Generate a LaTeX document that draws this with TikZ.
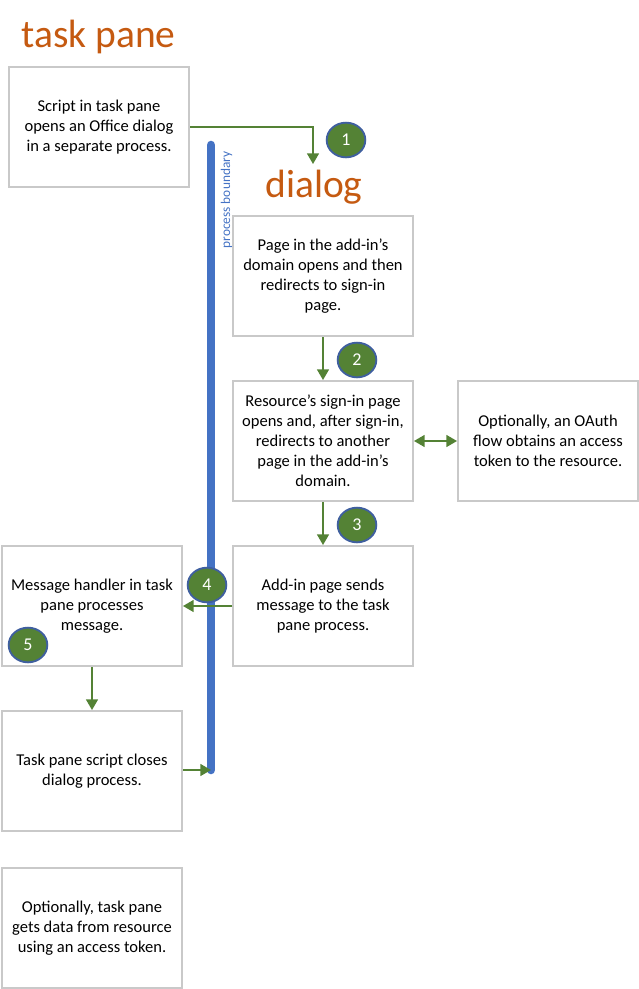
\documentclass[tikz,border=0pt]{standalone}
\usepackage{fontspec}
\setmainfont{Carlito}
\usetikzlibrary{arrows.meta,shapes.geometric,positioning}
\definecolor{boxgray}{HTML}{C9C9C9}
\definecolor{flowgreen}{HTML}{548235}
\definecolor{barblue}{HTML}{4472C4}
\definecolor{ringblue}{HTML}{3F5F9F}
\definecolor{titleorange}{HTML}{C55A11}
\tikzset{
	stepbox/.style={draw=boxgray,line width=1.5pt,fill=white,minimum width=135pt,minimum height=90pt,align=center,inner sep=0pt,font=\fontsize{12.4pt}{15pt}\selectfont},
	titletext/.style={text=titleorange,inner sep=0pt,font=\fontsize{29.6pt}{32pt}\selectfont},
	flow/.style={draw=flowgreen,line width=1.1pt,-{Triangle[length=8pt,width=9pt]}},
	numdot/.style={ellipse,draw=ringblue,line width=1.4pt,fill=flowgreen,text=white,minimum width=29pt,minimum height=26pt,inner sep=0pt,font=\fontsize{13.5pt}{15pt}\selectfont}
}
\begin{document}
\begin{tikzpicture}[x=0.75pt,y=-0.75pt,node distance=32.25pt]
	\useasboundingbox (0,0) rectangle (639,989);
	
	% process boundary
	\coordinate (bartop) at (211,145);
	\coordinate (barend) at (211,770);
	\draw[barblue,line width=6.4pt,line cap=round] (bartop) -- (barend);
	\node[rotate=90,text=barblue,inner sep=0pt,font=\fontsize{10pt}{10pt}\selectfont](boundary) at (226.5,200){process boundary};
	
	% left column
	\node[titletext](tasktitle) at (98.5,37){task pane};
	\node[stepbox](task) at (99,127){Script in task pane\\opens an Office dialog\\in a separate process.};
	\node[stepbox](handler) at (92,606){Message handler in task\\pane processes\\message.};
	\node[stepbox](closer)[below=of handler]{Task pane script closes\\dialog process.};
	\node[stepbox](fetch) at (92,928){Optionally, task pane\\gets data from resource\\using an access token.};
	
	% right column
	\node[titletext](dialog) at (314,187){dialog};
	\node[stepbox](page) at (323,276){Page in the add-in’s\\domain opens and then\\redirects to sign-in\\page.};
	\node[stepbox](signin)[below=of page]{Resource’s sign-in page\\opens and, after sign-in,\\redirects to another\\page in the add-in’s\\domain.};
	\node[stepbox](addin)[below=of signin]{Add-in page sends\\message to the task\\pane process.};
	\node[stepbox](oauth)[right=of signin]{Optionally, an OAuth\\flow obtains an access\\token to the resource.};
	
	\coordinate (dialogin) at (313,164);
	\draw[flow] (task.east) -| (dialogin);
	\draw[flow] (page) -- (signin);
	\draw[flow,{Triangle[length=8pt,width=9pt]}-{Triangle[length=8pt,width=9pt]}] (signin) -- (oauth);
	\draw[flow] (signin) -- (addin);
	\draw[flow] (addin) -- (handler);
	\draw[flow] (handler) -- (closer);
	\draw[flow] (closer.east |- barend) -- (barend);
	
	\node[numdot](n1) at (346,140){1};
	\node[numdot](n2) at (357,360){2};
	\node[numdot](n3) at (357,525){3};
	\node[numdot](n4) at (207,585){4};
	\node[numdot](n5) at (28,645){5};
\end{tikzpicture}
\end{document}
